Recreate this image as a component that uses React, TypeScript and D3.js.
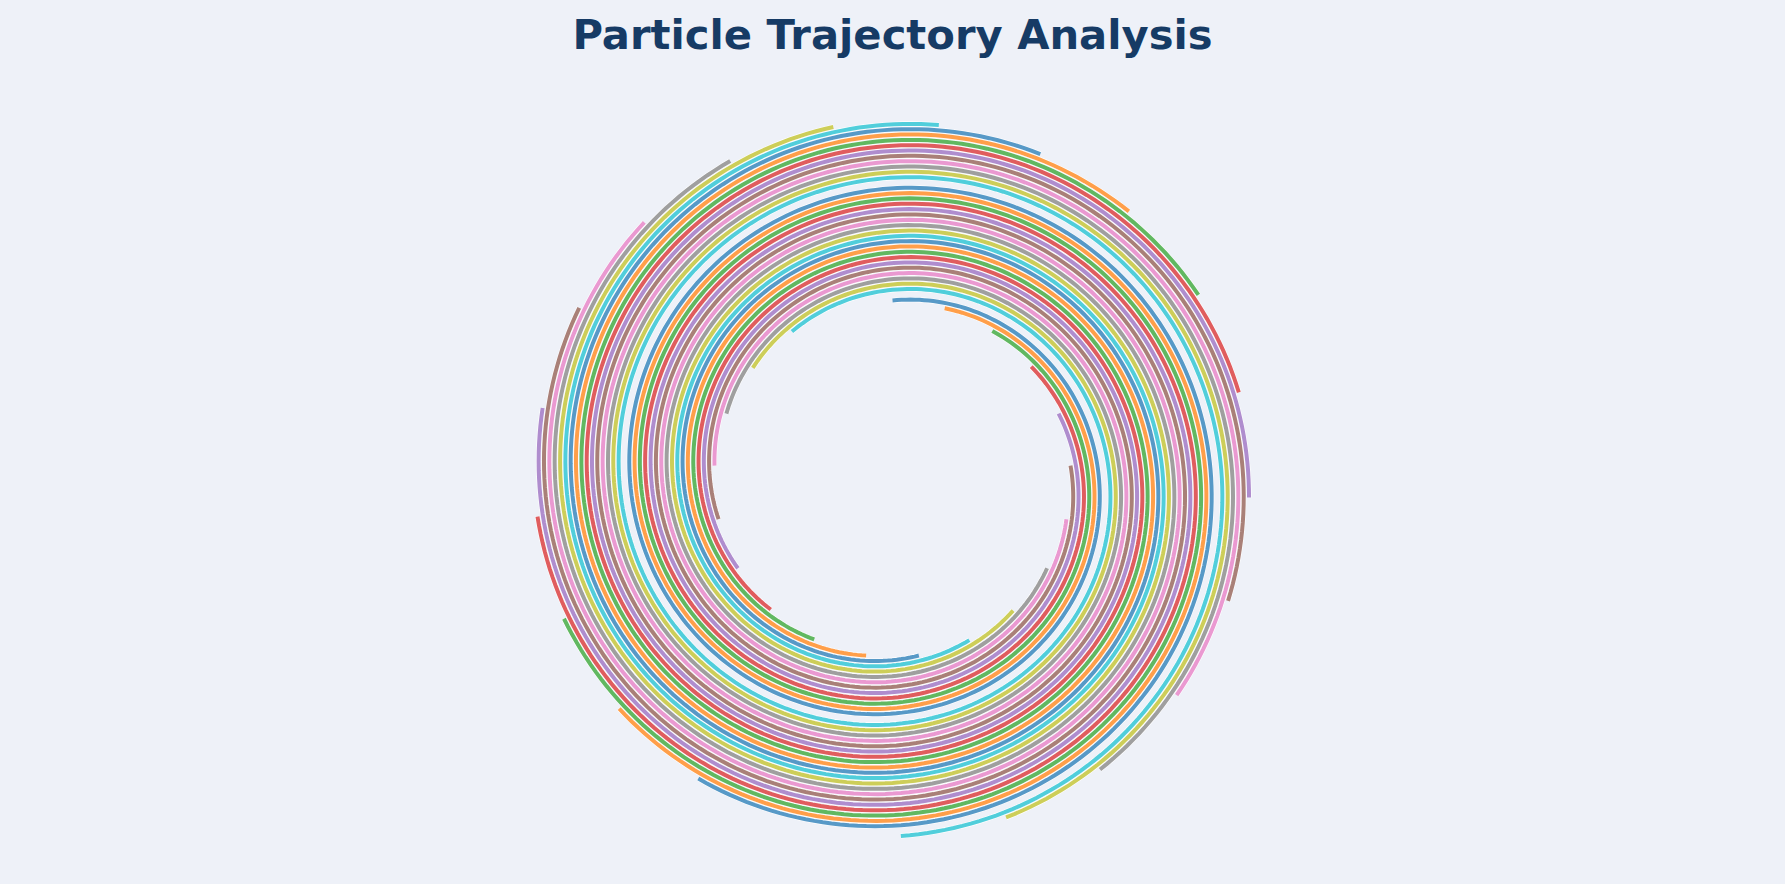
import React from 'react';
import * as d3 from 'd3';

// start angle of every trajectory, degrees counter-clockwise from +x
const startAngles = [90, 73, 56, 39, 21.5, 4.3, -13, -30, -47.5, -64.5, -81.5, -98.5, -116, -133, -150, -167, 175.7, 158.5, 141.5, 124.3];
// radius at the start and at the end of each path (data units), and the swept angle (radians)
const innerRadius = [1.0];
const outerRadius = [2.0];
const sweep = [10];
const palette = ['#1f77b4', '#ff7f0e', '#2ca02c', '#d62728', '#9467bd', '#8c564b', '#e377c2', '#7f7f7f', '#bcbd22', '#17becf'];

const width = 1785;
const height = 884;
const cx = 892.5;
const cy = 479;

const App: React.FC = () => {
  const rScale = d3.scaleLinear().domain([0, 2]).range([0, 357]);
  const steps = d3.range(0, 401).map(i => (i / 400) * sweep[0]);

  const line = d3.lineRadial<number>()
    .curve(d3.curveLinear);

  const paths = startAngles.map((deg, k) => {
    const a0 = ((90 - deg) * Math.PI) / 180;
    const rs = d3.scaleLinear().domain([0, sweep[0]]).range([innerRadius[0], outerRadius[0]]);
    const d = line
      .angle(t => a0 + t)
      .radius(t => rScale(rs(t)))(steps);
    return { d, color: palette[k % palette.length] };
  });

  return (
    <svg width={width} height={height} style={{ position: 'absolute', left: 0, top: 0 }}>
      <rect width={width} height={height} fill="#eef1f8" />
      <text
        x={width / 2}
        y={48.5}
        textAnchor="middle"
        fontFamily="DejaVu Sans"
        fontWeight="bold"
        fontSize={41.7}
        fill="#163b65"
      >
        Particle Trajectory Analysis
      </text>
      <g transform={`translate(${cx},${cy})`}>
        {paths.map((p, i) => (
          <path key={`w${i}`} d={p.d ?? ''} fill="none" stroke="#ffffff" strokeWidth={5.2} />
        ))}
        {paths.map((p, i) => (
          <path key={`c${i}`} d={p.d ?? ''} fill="none" stroke={p.color} strokeOpacity={0.75} strokeWidth={4} />
        ))}
      </g>
    </svg>
  );
};

export default App;
